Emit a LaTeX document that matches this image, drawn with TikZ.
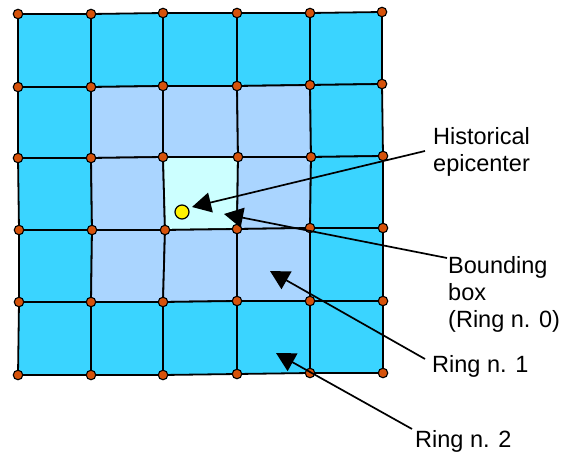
\documentclass[tikz,border=0pt]{standalone}
\usepackage{fontspec}
\setmainfont{Liberation Sans}
\usetikzlibrary{arrows.meta}
\definecolor{ringtwo}{RGB}{58,212,255}
\definecolor{ringone}{RGB}{170,213,255}
\definecolor{ringzero}{RGB}{204,255,255}
\definecolor{dotfill}{RGB}{214,82,10}
\begin{document}
\begin{tikzpicture}[x=1pt,y=-1pt,
  cell/.style={draw=black,line width=1.8pt,line join=round},
  vdot/.style={circle,draw=black,line width=1.1pt,fill=dotfill,minimum size=9.5pt,inner sep=0pt},
  epic/.style={circle,draw=black,line width=1.2pt,fill=yellow,minimum size=14pt,inner sep=0pt},
  lbl/.style={font=\fontsize{23.5}{27}\selectfont,align=left,inner sep=0pt},
  conn/.style={line width=1.7pt,-{Triangle[length=19pt,width=20pt]}}]
\useasboundingbox (0,0) rectangle (561,454);
% vertices
\coordinate (v00) at (18,14);  \coordinate (v01) at (91,14);  \coordinate (v02) at (163,13);
\coordinate (v03) at (237,13); \coordinate (v04) at (310,13); \coordinate (v05) at (382,12);
\coordinate (v10) at (18,87);  \coordinate (v11) at (91,87);  \coordinate (v12) at (163,86);
\coordinate (v13) at (237,86); \coordinate (v14) at (310,85); \coordinate (v15) at (382,84);
\coordinate (v20) at (18,158); \coordinate (v21) at (91,158); \coordinate (v22) at (163,157);
\coordinate (v23) at (238,157);\coordinate (v24) at (311,157);\coordinate (v25) at (383,156);
\coordinate (v30) at (19,230); \coordinate (v31) at (92,230); \coordinate (v32) at (165,230);
\coordinate (v33) at (237,229);\coordinate (v34) at (310,228);\coordinate (v35) at (383,228);
\coordinate (v40) at (19,302); \coordinate (v41) at (91,302); \coordinate (v42) at (163,302);
\coordinate (v43) at (237,301);\coordinate (v44) at (310,301);\coordinate (v45) at (383,301);
\coordinate (v50) at (18,375); \coordinate (v51) at (91,375); \coordinate (v52) at (163,375);
\coordinate (v53) at (237,374);\coordinate (v54) at (310,373);\coordinate (v55) at (383,373);
% cells
\foreach \r in {0,...,4}{
  \foreach \c in {0,...,4}{
    \pgfmathtruncatemacro\rr{\r+1}
    \pgfmathtruncatemacro\cc{\c+1}
    \pgfmathtruncatemacro\ring{max(abs(\r-2),abs(\c-2))}
    \ifcase\ring \def\cellcol{ringzero}\or \def\cellcol{ringone}\else \def\cellcol{ringtwo}\fi
    \filldraw[cell,fill=\cellcol] (v\r\c) -- (v\r\cc) -- (v\rr\cc) -- (v\rr\c) -- cycle;
  }
}
% vertex dots
\foreach \r in {0,...,5}{
  \foreach \c in {0,...,5}{
    \node[vdot] (d\r\c) at (v\r\c) {};
  }
}
% epicenter
\node[epic] (epi) at (182,212) {};
% labels (base anchor = baseline of the last line)
\node[lbl,anchor=base west] (hist) at (433,172) {Historical\\epicenter};
\node[lbl,anchor=base west] (bbox) at (448,327) {Bounding\\box\\(Ring n. 0)};
\node[lbl,anchor=base west] (ringA) at (432,372) {Ring n. 1};
\node[lbl,anchor=base west] (ringB) at (415,447) {Ring n. 2};
% connector ends
\coordinate (hs) at (425,151); \coordinate (ht) at (192,207);
\coordinate (bs) at (447,258); \coordinate (bt) at (224,214);
\coordinate (as) at (425,359); \coordinate (at1) at (270,271);
\coordinate (cs) at (412,429); \coordinate (ct) at (276,353);
\draw[conn] (hs) -- (ht);
\draw[conn] (bs) -- (bt);
\draw[conn] (as) -- (at1);
\draw[conn] (cs) -- (ct);
\end{tikzpicture}
\end{document}
